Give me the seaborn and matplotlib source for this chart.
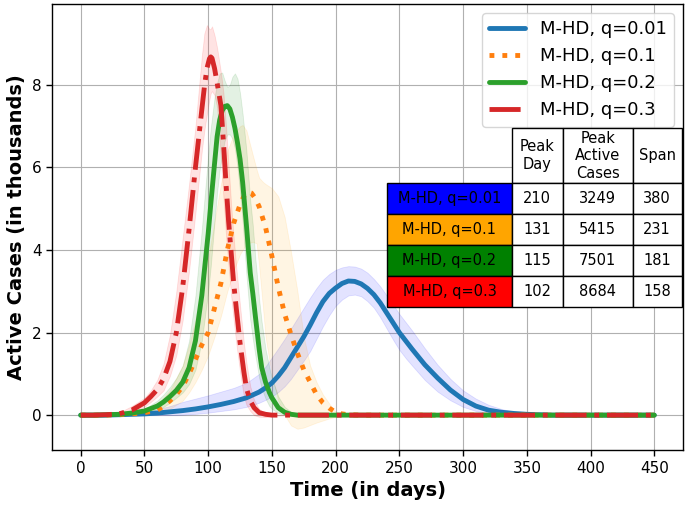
import matplotlib
matplotlib.use("Agg")
import matplotlib.pyplot as plt
import numpy as np
import seaborn as sns

# mean active cases (thousands), per scenario
blue_days = [0, 10, 20, 30, 40, 50, 60, 70, 80, 90, 100, 110, 120, 130, 140,
             145, 150, 155, 160, 165, 170, 175, 180, 185, 190, 195, 200, 205, 210, 215, 220, 225, 230, 235, 240,
             245, 250, 255, 260, 270, 280, 290, 300, 310, 320, 330, 340, 350, 360, 370, 450]
blue_mean = [0, 0, 0, 0.01, 0.02, 0.03, 0.05, 0.08, 0.11, 0.15, 0.2, 0.26, 0.33, 0.42, 0.56,
             0.66, 0.78, 0.95, 1.15, 1.4, 1.65, 1.9, 2.18, 2.48, 2.75, 2.95, 3.08, 3.19, 3.25, 3.24, 3.18, 3.07, 2.92, 2.72, 2.48,
             2.24, 2.0, 1.8, 1.6, 1.22, 0.9, 0.61, 0.38, 0.22, 0.12, 0.07, 0.04, 0.02, 0.01, 0, 0]
blue_hi = [0, 0, 0.01, 0.02, 0.04, 0.08, 0.14, 0.22, 0.32, 0.4, 0.48, 0.57, 0.66, 0.78, 1.0,
           1.18, 1.4, 1.62, 1.85, 2.1, 2.35, 2.6, 2.85, 3.08, 3.28, 3.42, 3.52, 3.58, 3.61, 3.6, 3.55, 3.45, 3.3, 3.12, 2.9,
           2.68, 2.45, 2.25, 2.05, 1.62, 1.22, 0.88, 0.6, 0.4, 0.25, 0.15, 0.08, 0.04, 0.02, 0.01, 0]
blue_lo = [0, 0, 0, 0, 0, 0, 0, 0, 0.01, 0.03, 0.06, 0.1, 0.14, 0.2, 0.3,
           0.37, 0.45, 0.56, 0.7, 0.88, 1.1, 1.32, 1.55, 1.85, 2.15, 2.42, 2.65, 2.8, 2.9, 2.92, 2.88, 2.76, 2.6, 2.37, 2.1,
           1.83, 1.58, 1.38, 1.2, 0.85, 0.57, 0.36, 0.2, 0.1, 0.05, 0.02, 0.01, 0, 0, 0, 0]

orange_days = [0, 10, 20, 30, 40, 50, 60, 65, 70, 75, 80, 85, 90, 95, 100, 105, 110, 115, 120, 125,
               128, 131, 134, 137, 140, 145, 150, 155, 160, 165, 170, 175, 180, 185, 190, 195, 200, 205, 210, 220, 450]
orange_mean = [0, 0, 0, 0.01, 0.03, 0.06, 0.12, 0.22, 0.35, 0.5, 0.7, 1.0, 1.35, 1.7, 2.0, 2.6, 3.2, 4.0, 4.65, 5.1,
               5.3, 5.41, 5.38, 5.25, 5.05, 4.55, 3.85, 3.1, 2.45, 1.95, 1.5, 1.1, 0.8, 0.5, 0.3, 0.17, 0.07, 0.03, 0.01, 0, 0]
orange_band_days = [0, 20, 40, 50, 60, 70, 80, 85, 90, 95, 100, 105, 110, 115, 120, 125, 127, 130, 135, 138,
                    140, 143, 145, 150, 155, 160, 165, 170, 175, 180, 185, 190, 195, 200, 205, 210, 220, 450]
orange_hi = [0, 0, 0.05, 0.12, 0.25, 0.6, 1.2, 1.7, 2.3, 3.0, 3.8, 4.7, 5.6, 6.4, 6.8, 7.0, 7.03, 6.9, 6.3, 5.95,
             5.75, 5.65, 5.6, 5.5, 5.3, 4.8, 3.95, 3.0, 1.9, 1.2, 0.8, 0.5, 0.28, 0.08, 0.03, 0.01, 0, 0]
orange_lo = [0, 0, 0.01, 0.02, 0.05, 0.15, 0.35, 0.55, 0.8, 1.1, 1.45, 1.9, 2.4, 3.0, 3.5, 3.9, 4.0, 4.15, 4.2, 4.16,
             3.6, 2.6, 1.9, 0.95, 0.35, 0.0, -0.25, -0.33, -0.3, -0.24, -0.18, -0.13, -0.08, -0.04, -0.02, 0, 0, 0]

green_days = [0, 10, 20, 30, 40, 50, 60, 65, 70, 75, 80, 85, 90, 95, 100, 102, 105, 107, 109, 111,
              113, 115, 117, 119, 121, 123, 125, 127, 130, 133, 135, 137, 140, 142, 145, 148, 150, 155, 160, 165,
              170, 450]
green_mean = [0, 0, 0.01, 0.02, 0.05, 0.1, 0.22, 0.32, 0.45, 0.6, 0.8, 1.15, 1.8, 2.9, 4.4, 5.1, 6.1, 6.75, 7.15, 7.38,
              7.48, 7.5, 7.42, 7.22, 6.95, 6.6, 6.2, 5.65, 4.6, 3.45, 2.95, 2.4, 1.6, 1.15, 0.8, 0.55, 0.42, 0.18, 0.07, 0.02,
              0, 0]
green_hi = [0, 0, 0.02, 0.04, 0.08, 0.15, 0.35, 0.5, 0.68, 0.9, 1.2, 1.8, 2.9, 4.5, 6.3, 6.95, 7.7, 8.05, 8.28, 8.3,
            8.1, 7.95, 8.0, 8.2, 8.28, 8.15, 7.8, 7.3, 6.4, 5.2, 4.6, 3.8, 2.8, 2.25, 1.6, 1.15, 0.9, 0.45, 0.2, 0.08,
            0.02, 0]
green_lo = [0, 0, 0, 0.01, 0.03, 0.06, 0.14, 0.2, 0.3, 0.42, 0.55, 0.75, 1.1, 1.8, 3.0, 3.6, 4.7, 5.4, 5.95, 6.35,
            6.65, 6.8, 6.8, 6.7, 6.45, 6.0, 5.4, 4.7, 3.4, 2.3, 1.85, 1.45, 0.9, 0.65, 0.4, 0.22, 0.15, 0.05, 0.01, 0,
            0, 0]

red_days = [0, 10, 20, 30, 40, 50, 55, 60, 65, 70, 75, 80, 85, 90, 95, 97, 99, 101, 102, 103,
            105, 107, 110, 112, 114, 116, 118, 120, 122, 125, 128, 130, 133, 136, 140, 145, 150, 160, 450]
red_mean = [0, 0, 0.01, 0.03, 0.12, 0.3, 0.45, 0.62, 0.88, 1.3, 2.0, 3.1, 4.5, 6.0, 7.4, 7.95, 8.4, 8.64, 8.68, 8.65,
            8.4, 8.05, 7.5, 6.6, 5.6, 4.7, 3.95, 3.2, 2.6, 1.75, 1.05, 0.65, 0.35, 0.18, 0.06, 0.02, 0, 0, 0]
red_hi = [0, 0, 0.02, 0.06, 0.22, 0.42, 0.6, 0.85, 1.25, 1.95, 3.0, 4.3, 5.6, 7.0, 8.7, 9.25, 9.45, 9.35, 9.36, 9.42,
          9.2, 8.9, 8.3, 7.8, 7.0, 6.05, 5.1, 4.3, 3.6, 2.65, 1.75, 1.27, 0.7, 0.37, 0.15, 0.05, 0.02, 0, 0]
red_lo = [0, 0, 0, 0.01, 0.07, 0.2, 0.32, 0.45, 0.6, 0.95, 1.45, 2.3, 3.5, 4.9, 6.4, 6.9, 7.3, 7.65, 7.8, 7.85,
          7.75, 7.45, 6.2, 5.25, 4.35, 3.6, 2.9, 2.3, 1.75, 1.05, 0.45, 0.25, 0.1, 0.0, -0.04, -0.05, -0.02, 0, 0]

labels = ["M-HD, q=0.01", "M-HD, q=0.1", "M-HD, q=0.2", "M-HD, q=0.3"]
peak_day = [210, 131, 115, 102]
peak_cases = [3249, 5415, 7501, 8684]
span = [380, 231, 181, 158]
table_colors = ["blue", "orange", "green", "red"]

sns.set_style("ticks", rc={
    "axes.grid": True,
    "grid.color": "#b0b0b0",
    "grid.linewidth": 0.9,
    "axes.edgecolor": "black",
    "axes.labelcolor": "black",
    "text.color": "black",
    "xtick.color": "black",
    "ytick.color": "black",
})

fig = plt.figure(figsize=(6.85, 5.07), dpi=100)
ax = fig.add_axes([0.076, 0.112, 0.921, 0.88])

series = [
    (blue_days, blue_mean, blue_days, blue_lo, blue_hi, "#1f77b4", "-", "blue"),
    (orange_days, orange_mean, orange_band_days, orange_lo, orange_hi, "#ff7f0e", ":", "orange"),
    (green_days, green_mean, green_days, green_lo, green_hi, "#2ca02c", "-", "green"),
    (red_days, red_mean, red_days, red_lo, red_hi, "#d62728", "-.", "red"),
]

# shaded bands first, then the mean lines on top
for days, mean, bdays, lo, hi, col, ls, band_col in series:
    ax.fill_between(bdays, lo, hi, color=band_col, alpha=0.11, linewidth=0.6)

for (days, mean, bdays, lo, hi, col, ls, band_col), lab in zip(series, labels):
    sns.lineplot(x=days, y=mean, ax=ax, color=col, linestyle=ls, linewidth=3.5, label=lab,
                 solid_joinstyle="round")

ax.set_xlim(-22.5, 472.5)
ax.set_ylim(-0.85, 9.96)
ax.set_xticks(np.arange(0, 451, 50))
ax.set_yticks([0, 2, 4, 6, 8])
ax.tick_params(labelsize=11, length=4, width=1)
for s in ax.spines.values():
    s.set_linewidth(1.0)

ax.set_xlabel("Time (in days)", fontsize=14, fontweight="bold")
ax.set_ylabel("Active Cases (in thousands)", fontsize=14, fontweight="bold")

ax.legend(loc="upper right", fontsize=13, handlelength=2.0)

rows = [[lab, str(d), str(c), str(s)] for lab, d, c, s in zip(labels, peak_day, peak_cases, span)]
cell_colors = [[c, "white", "white", "white"] for c in table_colors]
tbl = ax.table(cellText=rows, colLabels=["", "Peak\nDay", "Peak\nActive\nCases", "Span"],
               cellColours=cell_colors, colWidths=[125, 51, 70, 49], cellLoc="center",
               bbox=[0.531, 0.3206, 0.467, 0.4014])
tbl.auto_set_font_size(False)
tbl.set_fontsize(10.5)
tbl.set_zorder(6)
for (r, c), cell in tbl.get_celld().items():
    cell.set_edgecolor("black")
    cell.set_linewidth(1.0)
    cell.set_height(55 if r == 0 else 31)
    if r == 0 and c == 0:
        cell.set_visible(False)

fig.savefig("out.png", dpi=100)
